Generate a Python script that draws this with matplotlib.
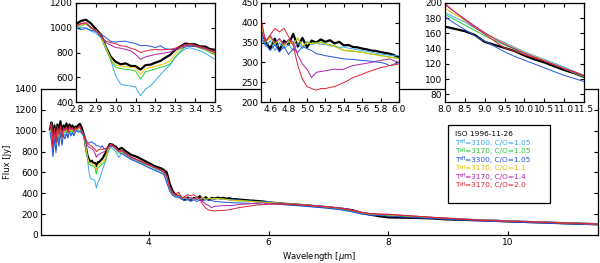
import numpy as np
import matplotlib
matplotlib.use('Agg')
import matplotlib.pyplot as plt

# wavelength grid (micron), denser where the insets zoom in
wl = np.array([
    2.35, 2.375, 2.40, 2.425, 2.45, 2.475, 2.50, 2.525, 2.55, 2.575, 2.60, 2.625, 2.65, 2.675, 2.70, 2.725, 2.75, 2.775,
    2.800, 2.825, 2.850, 2.875, 2.900, 2.925, 2.950, 2.975, 3.000, 3.025, 3.050, 3.075, 3.100, 3.125, 3.150,
    3.175, 3.200, 3.225, 3.250, 3.275, 3.300, 3.325, 3.350, 3.375, 3.400, 3.425, 3.450, 3.475, 3.500,
    3.55, 3.6, 3.7, 3.8, 3.9, 4.0, 4.1, 4.2, 4.25, 4.3, 4.35, 4.4, 4.45,
    4.50, 4.55, 4.60, 4.65, 4.70, 4.75, 4.80, 4.85, 4.90, 4.95, 5.00, 5.05, 5.10, 5.15, 5.20, 5.25,
    5.30, 5.35, 5.40, 5.45, 5.50, 5.55, 5.60, 5.65, 5.70, 5.75, 5.80, 5.85, 5.90, 5.95, 6.00,
    6.25, 6.5, 6.75, 7.0, 7.25, 7.4, 7.55, 7.7, 7.85,
    8.0, 8.25, 8.5, 8.75, 9.0, 9.25, 9.5, 9.75, 10.0, 10.25, 10.5, 10.75, 11.0, 11.25, 11.5])

# ISO observation
iso = [1010, 1080, 870, 1050, 920, 1060, 980, 1090, 940, 1050, 1010, 1070, 990, 1060, 1030, 1050, 1010, 1040,
       1030, 1055, 1065, 1035, 990, 945, 845, 765, 725, 705, 712, 692, 690, 662, 698,
       702, 718, 732, 758, 782, 822, 848, 872, 868, 866, 850, 848, 828, 822,
       835, 810, 770, 750, 720, 690, 660, 640, 625, 600, 490, 420, 380,
       386, 352, 335, 360, 330, 355, 345, 372, 340, 362, 338, 355, 350, 358, 352, 356,
       348, 352, 343, 344, 339, 338, 335, 333, 330, 329, 326, 324, 322, 318, 313,
       300, 290, 278, 265, 250, 238, 212, 195, 180,
       169, 166, 163, 158, 149, 145, 141, 137, 131, 126, 122, 117, 112, 108, 103]

# models
m3100_105 = [1000, 960, 780, 950, 820, 980, 900, 1000, 880, 980, 950, 990, 940, 1000, 970, 990, 960, 1000,
             1005, 1000, 1000, 975, 955, 920, 850, 740, 610, 545, 535, 530, 522, 450, 505,
             530, 575, 620, 665, 700, 765, 800, 830, 838, 825, 815, 795, 770, 745,
             790, 770, 730, 705, 680, 650, 625, 600, 590, 520, 430, 380, 360,
             370, 340, 355, 330, 350, 335, 345, 330, 350, 335, 352, 345, 348, 346, 345, 342,
             340, 338, 339, 336, 334, 332, 330, 328, 326, 323, 321, 320, 318, 317, 317,
             300, 290, 277, 262, 240, 222, 205, 198, 192,
             187, 181, 175, 167, 160, 154, 148, 142, 136, 131, 126, 121, 116, 110, 105]
m3170_105 = [1000, 1020, 820, 990, 860, 1010, 940, 1020, 910, 1000, 980, 1010, 960, 1010, 990, 1000, 970, 1010,
             1010, 1015, 1030, 995, 975, 930, 830, 740, 680, 670, 665, 660, 650, 585, 645,
             655, 668, 680, 690, 710, 760, 810, 850, 862, 850, 835, 820, 800, 785,
             800, 780, 740, 715, 690, 665, 640, 615, 600, 560, 450, 395, 370,
             395, 350, 365, 345, 360, 340, 355, 345, 362, 340, 352, 348, 350, 352, 347, 345,
             342, 336, 330, 329, 328, 327, 326, 323, 321, 320, 317, 316, 314, 312, 311,
             302, 292, 280, 267, 250, 232, 212, 200, 192,
             185, 178, 171, 164, 157, 151, 145, 139, 134, 129, 124, 119, 114, 108, 103]
m3300_105 = [980, 900, 750, 920, 790, 950, 850, 980, 860, 960, 920, 970, 930, 990, 950, 980, 950, 990,
             1000, 985, 995, 980, 970, 950, 920, 890, 884, 890, 892, 880, 873, 855, 857,
             850, 840, 855, 830, 826, 824, 830, 845, 850, 848, 845, 830, 815, 790,
             780, 760, 725, 700, 675, 645, 620, 595, 580, 500, 420, 380, 365,
             360, 345, 330, 345, 326, 340, 320, 335, 325, 340, 335, 330, 322, 320, 317, 315,
             313, 311, 309, 308, 308, 306, 305, 304, 303, 301, 300, 297, 292, 296, 300,
             290, 280, 268, 255, 238, 222, 200, 190, 186,
             182, 173, 165, 157, 150, 143, 136, 130, 125, 120, 115, 110, 105, 101, 97]
m3170_11 = [1000, 1030, 840, 1000, 870, 1020, 950, 1030, 920, 1010, 990, 1020, 970, 1020, 1000, 1010, 980, 1015,
            1015, 1020, 1035, 1000, 980, 935, 840, 755, 700, 690, 685, 680, 676, 625, 670,
            680, 690, 700, 712, 735, 790, 830, 860, 868, 855, 840, 825, 808, 790,
            805, 785, 745, 720, 695, 670, 645, 620, 605, 565, 455, 400, 372,
            392, 352, 362, 348, 358, 342, 352, 348, 360, 342, 350, 347, 349, 350, 346, 344,
            340, 335, 331, 330, 329, 327, 325, 323, 321, 319, 317, 315, 313, 311, 309,
            302, 292, 281, 268, 252, 235, 215, 203, 196,
            193, 185, 177, 169, 161, 154, 147, 141, 135, 130, 125, 119, 114, 109, 104]
m3170_14 = [1010, 1050, 830, 1010, 880, 1030, 960, 1040, 930, 1020, 1000, 1030, 980, 1030, 1010, 1020, 990, 1020,
            1015, 1030, 1040, 1000, 975, 930, 880, 860, 840, 835, 825, 815, 785, 745, 765,
            775, 785, 790, 797, 805, 824, 840, 855, 860, 852, 840, 830, 815, 800,
            805, 785, 745, 720, 695, 670, 645, 620, 605, 560, 455, 400, 380,
            377, 355, 368, 350, 360, 345, 358, 352, 318, 296, 283, 262, 275, 277, 279, 281,
            283, 282, 283, 288, 292, 294, 296, 298, 300, 303, 305, 307, 309, 304, 300,
            300, 292, 282, 270, 255, 238, 218, 206, 200,
            198, 188, 179, 170, 161, 153, 146, 140, 134, 129, 124, 119, 114, 109, 104]
m3170_20 = [1030, 1080, 850, 1020, 890, 1040, 970, 1050, 940, 1030, 1010, 1040, 990, 1040, 1020, 1030, 1000, 1030,
            1020, 1035, 1040, 1005, 975, 932, 892, 880, 870, 855, 850, 835, 824, 800, 812,
            820, 824, 822, 824, 826, 835, 848, 865, 868, 858, 848, 838, 822, 808,
            810, 790, 750, 725, 700, 675, 650, 625, 610, 565, 460, 405, 395,
            411, 352, 369, 386, 377, 386, 365, 343, 292, 258, 239, 234, 230, 234, 234, 237,
            239, 244, 249, 255, 262, 266, 270, 275, 279, 283, 287, 289, 292, 294, 296,
            296, 290, 280, 268, 253, 236, 216, 205, 200,
            199, 188, 178, 168, 159, 150, 141, 137, 132, 128, 124, 119, 114, 110, 105]

models = [m3100_105, m3170_105, m3300_105, m3170_11, m3170_14, m3170_20]
labels = ['=3100, C/O=1.05', '=3170, C/O=1.05', '=3300, C/O=1.05',
          '=3170, C/O=1.1', '=3170, C/O=1.4', '=3170, C/O=2.0']
colors = ['#33aaee', '#22cc33', '#2255dd', '#f0c000', '#aa22aa', '#dd2233']

plt.rcParams['font.size'] = 6.5
plt.rcParams['xtick.direction'] = 'in'
plt.rcParams['ytick.direction'] = 'in'
plt.rcParams['xtick.top'] = True
plt.rcParams['ytick.right'] = True
plt.rcParams['axes.linewidth'] = 0.9

fig = plt.figure(figsize=(6.0, 2.63), dpi=100)


def draw(ax):
    for m, c in zip(models, colors):
        ax.plot(wl, m, color=c, lw=0.7)
    ax.plot(wl, iso, color='black', lw=1.6, zorder=1)


ax = fig.add_axes([0.0683, 0.1065, 0.9284, 0.5551])
draw(ax)
ax.set_xlim(2.2, 11.5)
ax.set_ylim(0, 1400)
ax.set_xticks([4, 6, 8, 10])
ax.set_yticks(range(0, 1401, 200))
ax.tick_params(length=3, pad=2)
ax.set_xlabel('Wavelength [$\\mu$m]', fontsize=6, labelpad=2)
ax.set_ylabel('Flux [Jy]', fontsize=6, labelpad=2)

# legend box, T_eff written as T + small "eff" like the original
ax.add_patch(plt.Rectangle((0.731, 0.219), 0.183, 0.534, transform=ax.transAxes,
                           fill=False, lw=0.9, color='black'))
x0 = 0.743
fs = 5.3
ax.text(x0, 0.69, 'ISO 1996-11-26', transform=ax.transAxes, va='center', fontsize=fs)
for i, (lab, c) in enumerate(zip(labels, colors)):
    yy = 0.632 - i * 0.058
    ax.text(x0, yy, 'T', transform=ax.transAxes, va='center', fontsize=fs, color=c)
    ax.text(x0 + 0.0083, yy + 0.007, 'eff', transform=ax.transAxes, va='center',
            fontsize=3.3, color=c)
    ax.text(x0 + 0.019, yy, lab, transform=ax.transAxes, va='center', fontsize=fs, color=c)

ins = [([0.1267, 0.612, 0.2316, 0.3766], (2.8, 3.5), (400, 1200),
        np.arange(2.8, 3.51, 0.1), range(400, 1201, 200)),
       ([0.435, 0.612, 0.23, 0.3766], (4.5, 6.0), (200, 450),
        np.arange(4.6, 6.01, 0.2), range(200, 451, 50)),
       ([0.7417, 0.612, 0.2316, 0.3766], (8.0, 11.5), (70, 200),
        np.arange(8.0, 11.51, 0.5), range(80, 201, 20))]
for rect, xl, yl, xt, yt in ins:
    a = fig.add_axes(rect)
    a.set_facecolor('white')
    draw(a)
    a.set_xlim(*xl)
    a.set_ylim(*yl)
    a.set_xticks(xt)
    a.set_xticklabels(['%.1f' % v for v in xt])
    a.set_yticks(list(yt))
    a.tick_params(length=3, pad=2)

fig.savefig('out.png', dpi=100)
